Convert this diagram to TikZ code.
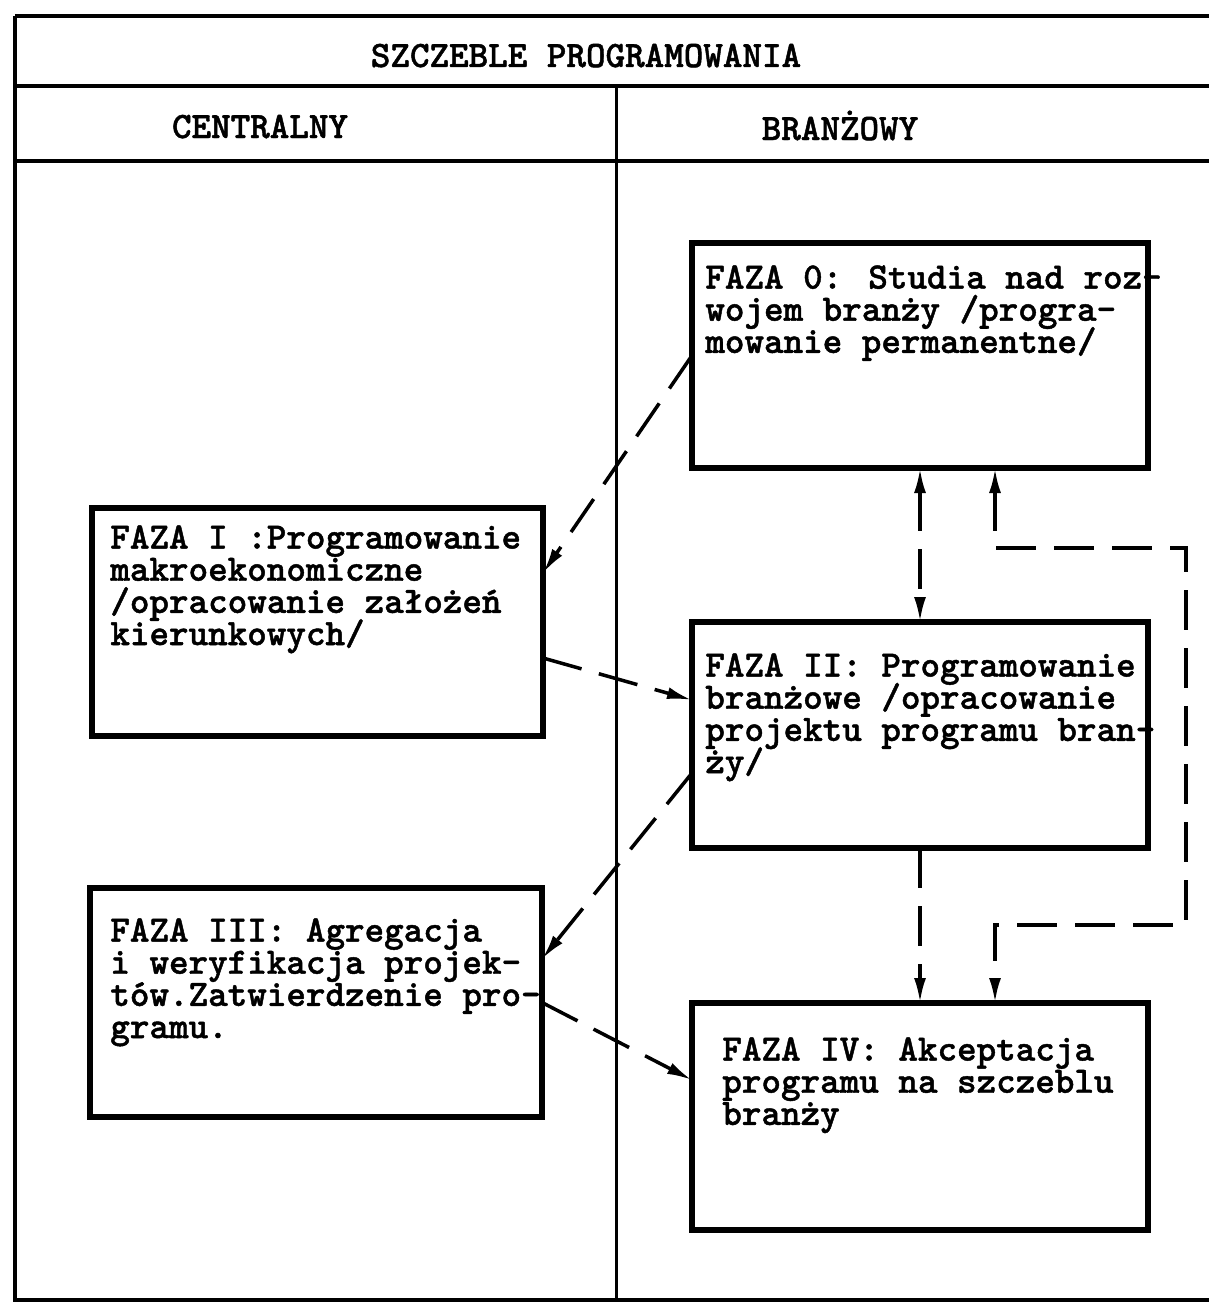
\documentclass[tikz,border=0pt]{standalone}
\usepackage{fontspec}
\newfontfamily\maszyna[FakeBold=1.2]{lmmonolt10-bold.otf}
\usetikzlibrary{arrows.meta}
\newcommand\pismo{\maszyna\fontsize{21.2}{18.3}\selectfont}

\begin{document}
\lineskiplimit=-20pt
\begin{tikzpicture}[x=0.2mm,y=-0.2mm,
  opis/.style={font=\pismo, inner sep=0pt, align=left},
  faza/.style={draw, line width=3pt, outer sep=0pt, inner sep=0pt, anchor=north west},
  flow/.style={line width=2pt, dash pattern=on 8mm off 3.6mm, ->},
  frame/.style={line width=2.2pt},
  >={Latex[length=5mm,width=2.4mm]}]
\useasboundingbox (0,0) rectangle (1209,1305);
\draw[frame] (15,16) -- (1209,16);
\draw[frame] (15,86) -- (1209,86);
\draw[frame] (15,161) -- (1209,161);
\draw[frame] (15,16) -- (15,1300) -- (1209,1300);
\draw[line width=1.7pt] (616,86) -- (616,1300);
\node[opis, anchor=base] (tytul) at (586,67) {SZCZEBLE PROGRAMOWANIA};
\node[opis, anchor=base] (central) at (260,138) {CENTRALNY};
\node[opis, anchor=base] (branz) at (840,140) {BRANŻOWY};
\node[faza, minimum width=91.2mm, minimum height=45mm] (f0) at (692,243) {};
\node[faza, minimum width=90.2mm, minimum height=45.6mm] (f1) at (92,508) {};
\node[faza, minimum width=91.2mm, minimum height=45.2mm] (f2) at (692,622) {};
\node[faza, minimum width=90.4mm, minimum height=45.8mm] (f3) at (90,888) {};
\node[faza, minimum width=91.2mm, minimum height=45.4mm] (f4) at (692,1003) {};
\node[opis, anchor=north west] (t0) at ([xshift=2.6mm,yshift=-4.4mm]f0.north west) {FAZA 0: Studia nad roz-\\wojem branży /progra-\\mowanie permanentne/};
\node[opis, anchor=north west] (t1) at ([xshift=3.6mm,yshift=-3.4mm]f1.north west) {FAZA I :Programowanie\\makroekonomiczne\\/opracowanie założeń\\kierunkowych/};
\node[opis, anchor=north west] (t2) at ([xshift=2.6mm,yshift=-6.2mm]f2.north west) {FAZA II: Programowanie\\branżowe /opracowanie\\projektu programu bran-\\ży/};
\node[opis, anchor=north west] (t3) at ([xshift=4mm,yshift=-6mm]f3.north west) {FAZA III: Agregacja\\i weryfikacja projek-\\tów.Zatwierdzenie pro-\\gramu.};
\node[opis, anchor=north west] (t4) at ([xshift=6mm,yshift=-6.8mm]f4.north west) {FAZA IV: Akceptacja\\programu na szczeblu\\branży};
\coordinate (petlag) at (1186,548);
\coordinate (petlad) at (1186,925);
\draw[flow] (f0.west) -- ([yshift=9.8mm]f1.east);
\draw[flow] ([yshift=-7.2mm]f1.east) -- ([yshift=7mm]f2.west);
\draw[flow] ([yshift=-7.6mm]f2.west) -- ([yshift=8.7mm]f3.east);
\draw[flow] (f3.east) -- ([yshift=7.3mm]f4.west);
\draw[flow,<->] (f0.south) -- (f2.north);
\draw[flow] (f2.south) -- (f4.north);
\draw[flow,<->] ([xshift=15mm]f0.south) |- (petlag) -- (petlad) -| ([xshift=15mm]f4.north);
\end{tikzpicture}
\end{document}
